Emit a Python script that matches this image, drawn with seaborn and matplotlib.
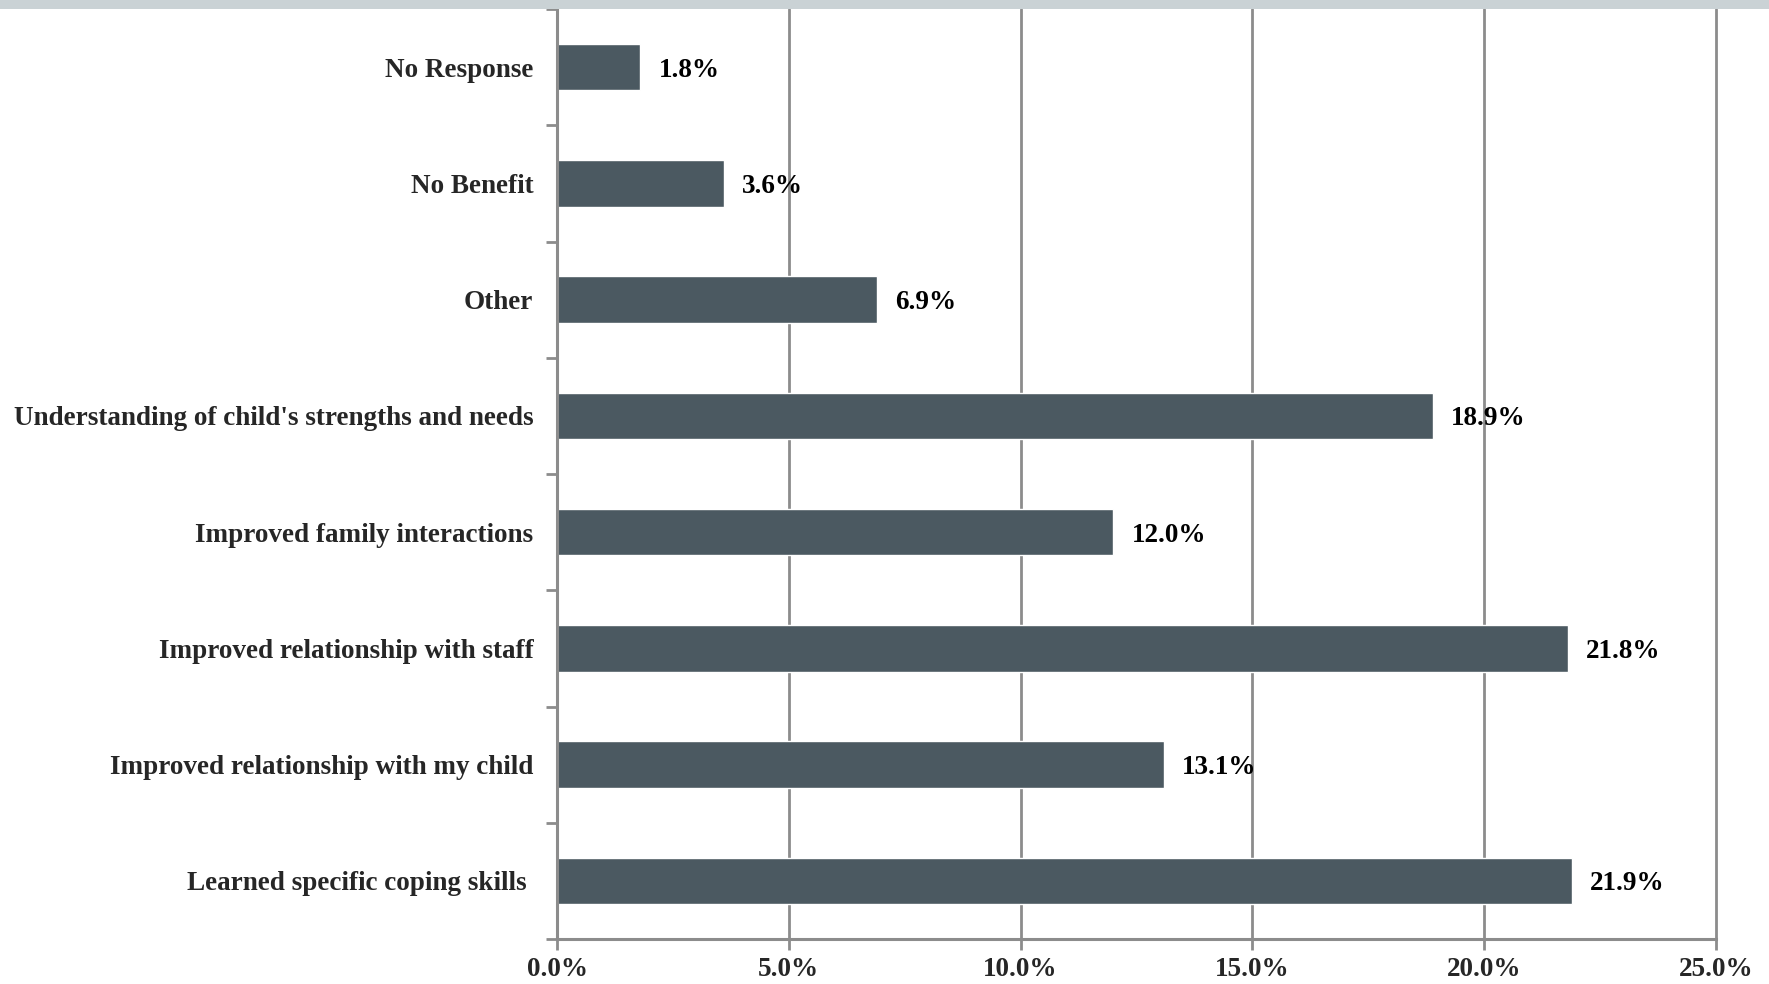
import numpy as np
import pandas as pd
import matplotlib
matplotlib.use("Agg")
import matplotlib.pyplot as plt
from matplotlib.patches import Rectangle
import seaborn as sns

# Survey responses: reported benefits (percent of respondents)
categories = [
    "No Response",
    "No Benefit",
    "Other",
    "Understanding of child's strengths and needs",
    "Improved family interactions",
    "Improved relationship with staff",
    "Improved relationship with my child",
    "Learned specific coping skills ",
]
percentages = [1.8, 3.6, 6.9, 18.9, 12.0, 21.8, 13.1, 21.9]
x_ticks = [0, 5, 10, 15, 20, 25]
x_tick_labels = ["0.0%", "5.0%", "10.0%", "15.0%", "20.0%", "25.0%"]

sns.set_theme(style="white")
plt.rcParams["font.family"] = ["Liberation Serif", "DejaVu Serif"]
plt.rcParams["font.weight"] = "bold"

df = pd.DataFrame({"category": categories, "pct": percentages})

W, H, DPI = 1769, 984, 100
fig = plt.figure(figsize=(W / DPI, H / DPI), dpi=DPI)
fig.patch.set_facecolor("white")
ax = fig.add_axes([557 / W, 1 - 939 / H, (1716 - 557) / W, (939 - 9) / H])

bar_color = "#4b5961"
grid_color = "#8c8c8c"
fs = 19.5

sns.barplot(data=df, x="pct", y="category", order=categories, orient="h",
            color=bar_color, saturation=1, width=0.4, ax=ax, zorder=3)

ax.set_xlim(0, 25)
ax.set_ylim(len(categories) - 0.5, -0.5)
ax.set_xlabel("")
ax.set_ylabel("")

# x axis: percent ticks with vertical gridlines
ax.set_xticks(x_ticks)
ax.set_xticklabels(x_tick_labels, fontsize=fs, fontweight="bold")
ax.tick_params(axis="x", length=8, width=2, color=grid_color, pad=5, bottom=True)
ax.grid(axis="x", color=grid_color, linewidth=2, zorder=0)
ax.grid(axis="y", visible=False)
ax.set_axisbelow(True)
for gl in ax.xaxis.get_gridlines():
    gl.set_clip_on(False)

# y axis: labels at bar centres, tick marks at category boundaries
ax.set_yticks(np.arange(-0.5, len(categories), 1), minor=True)
ax.tick_params(axis="y", which="major", length=0, pad=17, labelsize=fs)
ax.tick_params(axis="y", which="minor", length=8, width=2, color=grid_color, left=True)
for lbl in ax.get_yticklabels():
    lbl.set_fontweight("bold")

for side in ("top", "right"):
    ax.spines[side].set_visible(False)
for side in ("left", "bottom"):
    ax.spines[side].set_color(grid_color)
    ax.spines[side].set_linewidth(2.2)
    ax.spines[side].set_zorder(4)

# value labels at bar ends
for container in ax.containers:
    texts = ax.bar_label(container, labels=[f"{v:.1f}%" for v in percentages],
                         padding=13, fontsize=fs, fontweight="bold", color="black")
    for t in texts:
        t.set_va("center_baseline")

# light band along the top edge
fig.patches.append(Rectangle((0, 1 - 9 / H), 1, 9 / H, transform=fig.transFigure,
                             facecolor="#cad2d5", edgecolor="none", zorder=5))

fig.savefig("out.png", dpi=DPI, facecolor="white")
